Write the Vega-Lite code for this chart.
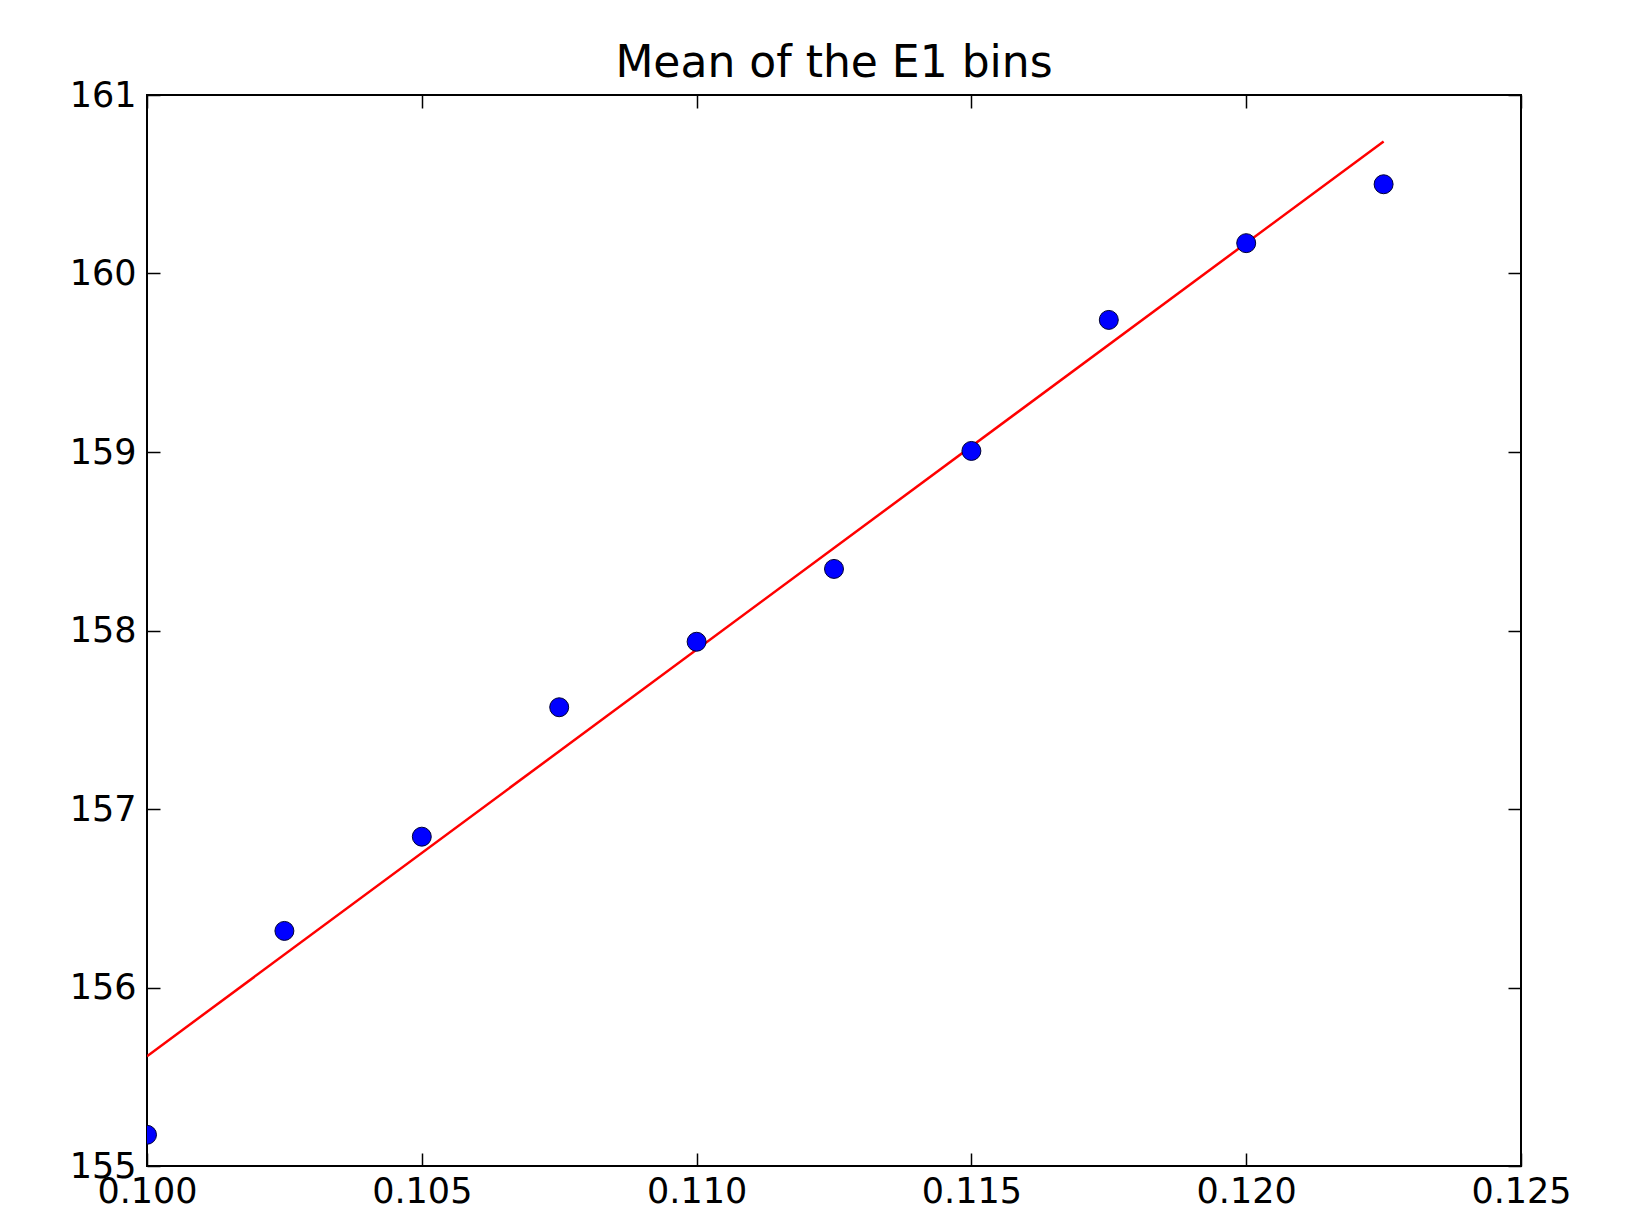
{
  "$schema": "https://vega.github.io/schema/vega-lite/v6.json",
  "autosize": "none",
  "width": 1374,
  "height": 1071,
  "padding": {"left": 147, "top": 95, "right": 118, "bottom": 43},
  "background": "white",
  "config": {
    "font": "DejaVu Sans",
    "view": {"stroke": "black", "strokeWidth": 2},
    "axis": {
      "grid": false,
      "domain": false,
      "tickColor": "black",
      "tickWidth": 1.5,
      "tickSize": -13,
      "labelFont": "DejaVu Sans",
      "labelFontSize": 35,
      "labelColor": "black",
      "title": null
    }
  },
  "title": {
    "text": "Mean of the E1 bins",
    "font": "DejaVu Sans",
    "fontSize": 44,
    "fontWeight": "normal",
    "color": "black",
    "offset": -8
  },
  "datasets": {
    "pts": [
      {"x": 0.1, "y": 155.175},
      {"x": 0.1025, "y": 156.317},
      {"x": 0.105, "y": 156.845},
      {"x": 0.1075, "y": 157.57},
      {"x": 0.11, "y": 157.937},
      {"x": 0.1125, "y": 158.345},
      {"x": 0.115, "y": 159.006},
      {"x": 0.1175, "y": 159.74},
      {"x": 0.12, "y": 160.17},
      {"x": 0.1225, "y": 160.5}
    ],
    "fit": [
      {"x": 0.1, "y": 155.615},
      {"x": 0.1225, "y": 160.74}
    ]
  },
  "layer": [
    {
      "data": {"name": "fit"},
      "mark": {"type": "line", "color": "#FF0000", "strokeWidth": 2.5, "clip": true},
      "encoding": {
        "x": {"field": "x", "type": "quantitative", "scale": {"domain": [0.1, 0.125], "nice": false, "zero": false},
              "axis": {"orient": "bottom", "values": [0.1, 0.105, 0.11, 0.115, 0.12, 0.125], "format": ".3f", "labelPadding": 21, "labelFlush": false}},
        "y": {"field": "y", "type": "quantitative", "scale": {"domain": [155, 161], "nice": false, "zero": false},
              "axis": {"orient": "left", "values": [155, 156, 157, 158, 159, 160, 161], "format": "d", "labelPadding": 24, "labelBaseline": "middle"}}
      }
    },
    {
      "data": {"name": "pts"},
      "mark": {"type": "point", "shape": "circle", "filled": true, "fill": "#0000FF", "stroke": "#000033", "strokeWidth": 1, "size": 360, "opacity": 1, "clip": true},
      "encoding": {
        "x": {"field": "x", "type": "quantitative",
              "axis": {"orient": "top", "values": [0.1, 0.105, 0.11, 0.115, 0.12, 0.125], "labels": false}},
        "y": {"field": "y", "type": "quantitative",
              "axis": {"orient": "right", "values": [155, 156, 157, 158, 159, 160, 161], "labels": false}}
      }
    }
  ],
  "resolve": {"axis": {"x": "independent", "y": "independent"}}
}
